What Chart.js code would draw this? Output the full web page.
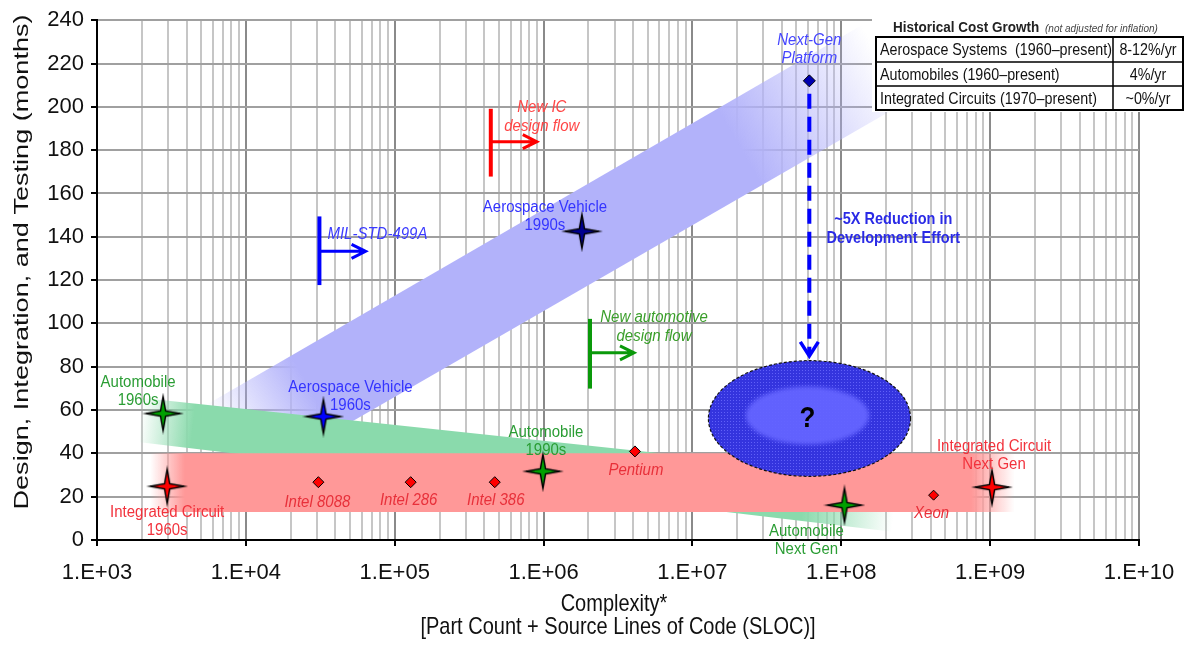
<!DOCTYPE html>
<html>
<head>
<meta charset="utf-8">
<script src="https://cdn.jsdelivr.net/npm/chart.js@4.4.1/dist/chart.umd.min.js"></script>
<style>
  html, body { margin: 0; padding: 0; background: #fff; }
</style>
</head>
<body>
<canvas id="chart" width="1192" height="645"></canvas>
<script>
// Axis ticks
const xTickValues = [1e3, 1e4, 1e5, 1e6, 1e7, 1e8, 1e9, 1e10];
const yMin = 0, yMax = 240, yStep = 20;

// Milestones (stars)
const autoNames = ['Automobile\n1960s', 'Automobile\n1990s', 'Automobile\nNext Gen'];
const autoX = [2780, 9.9e5, 1.05e8];
const autoY = [58.4, 31.7, 16.1];

const aeroNames = ['Aerospace Vehicle\n1960s', 'Aerospace Vehicle\n1990s'];
const aeroX = [3.32e4, 1.81e6];
const aeroY = [57.0, 142.5];

const icNames = ['Integrated Circuit\n1960s', 'Integrated Circuit\nNext Gen'];
const icX = [2960, 1.03e9];
const icY = [24.8, 24.4];

// Processors (diamonds)
const chipNames = ['Intel 8088', 'Intel 286', 'Intel 386', 'Pentium', 'Xeon'];
const chipX = [3.07e4, 1.28e5, 4.7e5, 4.11e6, 4.17e8];
const chipY = [26.7, 26.7, 26.7, 40.9, 20.7];

const platformNames = ['Next-Gen\nPlatform'];
const platformX = [6.1e7];
const platformY = [212];

// Trend bands, corners: top-left, top-right, bottom-right, bottom-left
const aeroBandX = [5330, 1.37e8, 2.74e8, 1.07e4];
const aeroBandY = [62.1, 237.7, 202.3, 27.6];
const autoBandX = [1946, 2.28e8, 2.28e8, 1946];
const autoBandY = [65.7, 28.5, 3.7, 45.1];
const icBandX = [2275, 1.46e9, 1.46e9, 2275];
const icBandY = [40, 40, 12.9, 12.9];

// "?" target region and the ~5X reduction arrow
const targetX = [1.28e7, 2.92e8];
const targetY = [29.4, 82.8];
const reductionX = 6.1e7;
const reductionY = [206, 85];

// Design flow markers
const flowNames = ['MIL-STD-499A', 'New IC\ndesign flow', 'New automotive\ndesign flow'];
const flowX = [3.12e4, 4.42e5, 2.05e6];
const flowTop = [149.4, 199.1, 102.1];
const flowBottom = [117.7, 167.8, 69.9];
const flowArrowY = [133.3, 183.9, 86.4];
const flowArrowX = [6.37e4, 9.0e5, 4.05e6];

// Historical cost growth table
const costRows = ['Aerospace Systems  (1960\u2013present)', 'Automobiles (1960\u2013present)', 'Integrated Circuits (1970\u2013present)'];
const costGrowth = ['8-12%/yr', '4%/yr', '~0%/yr'];

const FONT = "'Liberation Sans', Arial, sans-serif";

// minor grid values 1..9 x 10^n
const xGridValues = [];
xTickValues.forEach((v, i) => {
    if (i === xTickValues.length - 1) { xGridValues.push(v); return; }
    for (let m = 1; m < 10; m++) xGridValues.push(v * m);
});
const isDecade = (v) => Math.abs(Math.log10(v) - Math.round(Math.log10(v))) < 1e-9;

const toPoints = (xs, ys) => xs.map((x, i) => ({ x: x, y: ys[i] }));

// 4-point star marker
function makeStar(fill) {
    const s = 42, c = s / 2, R = 17, r = 3.6;
    const cv = document.createElement('canvas');
    cv.width = s; cv.height = s;
    const g = cv.getContext('2d');
    g.beginPath();
    for (let i = 0; i < 4; i++) {
        const a = i * Math.PI / 2 - Math.PI / 2;
        const b = a + Math.PI / 4;
        const tx = c + R * Math.cos(a), ty = c + R * Math.sin(a);
        if (i === 0) g.moveTo(tx, ty); else g.lineTo(tx, ty);
        g.lineTo(c + r * Math.cos(b), c + r * Math.sin(b));
    }
    g.closePath();
    g.shadowColor = 'rgba(0,0,0,0.7)';
    g.shadowBlur = 2;
    g.fillStyle = fill;
    g.fill();
    g.shadowBlur = 0;
    g.lineWidth = 1.4;
    g.strokeStyle = '#000';
    g.stroke();
    return cv;
}

function text(ctx, str, x, y, font, color, align, sy) {
    ctx.save();
    ctx.font = font;
    ctx.fillStyle = color;
    ctx.textAlign = align || 'center';
    ctx.textBaseline = 'middle';
    ctx.translate(x, y);
    ctx.scale(1, sy || 1.15);
    ctx.fillText(str, 0, 0);
    ctx.restore();
}

function drawBand(chart, xs, ys, rgb, fadeIn, fadeOut) {
    const ctx = chart.ctx;
    const pts = xs.map((x, i) => [chart.scales.x.getPixelForValue(x), chart.scales.y.getPixelForValue(ys[i])]);
    const lx = (pts[0][0] + pts[3][0]) / 2, ly = (pts[0][1] + pts[3][1]) / 2;
    const rx = (pts[1][0] + pts[2][0]) / 2, ry = (pts[1][1] + pts[2][1]) / 2;
    const grad = ctx.createLinearGradient(lx, ly, rx, ry);
    grad.addColorStop(0, 'rgba(' + rgb + ',0)');
    grad.addColorStop(fadeIn, 'rgba(' + rgb + ',1)');
    grad.addColorStop(fadeOut, 'rgba(' + rgb + ',1)');
    grad.addColorStop(1, 'rgba(' + rgb + ',0)');
    ctx.beginPath();
    pts.forEach((p, i) => i ? ctx.lineTo(p[0], p[1]) : ctx.moveTo(p[0], p[1]));
    ctx.closePath();
    ctx.fillStyle = grad;
    ctx.fill();
}

function drawPointLabels(chart, dsIndex, names, offsets, font, color) {
    const meta = chart.getDatasetMeta(dsIndex);
    meta.data.forEach((el, i) => {
        names[i].split('\n').forEach((line, k) => {
            text(chart.ctx, line, el.x + offsets[i][0], el.y + offsets[i][1] + k * 18, font, color);
        });
    });
}

const overlayPlugin = {
    id: 'overlay',
    beforeDatasetsDraw(chart) {
        const ctx = chart.ctx;
        const X = (v) => chart.scales.x.getPixelForValue(v);
        const Y = (v) => chart.scales.y.getPixelForValue(v);
        ctx.save();

        drawBand(chart, aeroBandX, aeroBandY, '178,178,250', 0.13, 0.78);
        drawBand(chart, autoBandX, autoBandY, '138,218,172', 0.07, 0.88);
        drawBand(chart, icBandX, icBandY, '255,152,152', 0.04, 0.95);

        // target ellipse
        const ex0 = X(targetX[0]), ex1 = X(targetX[1]);
        const ey0 = Y(targetY[1]), ey1 = Y(targetY[0]);
        const cx = (ex0 + ex1) / 2, cy = (ey0 + ey1) / 2;
        const rx = (ex1 - ex0) / 2, ry = (ey1 - ey0) / 2;
        const pc = document.createElement('canvas');
        pc.width = 3; pc.height = 3;
        const pg = pc.getContext('2d');
        pg.fillStyle = 'rgb(52,52,222)';
        pg.fillRect(0, 0, 3, 3);
        pg.fillStyle = 'rgb(96,96,248)';
        pg.fillRect(1, 1, 1, 1);
        ctx.beginPath();
        ctx.ellipse(cx, cy, rx, ry, 0, 0, Math.PI * 2);
        ctx.fillStyle = ctx.createPattern(pc, 'repeat');
        ctx.fill();
        ctx.save();
        ctx.filter = 'blur(2px)';
        ctx.beginPath();
        ctx.ellipse(cx - 2, cy - 3, rx * 0.61, ry * 0.5, 0, 0, Math.PI * 2);
        ctx.fillStyle = 'rgba(100,100,255,0.95)';
        ctx.fill();
        ctx.restore();
        ctx.beginPath();
        ctx.ellipse(cx, cy, rx, ry, 0, 0, Math.PI * 2);
        ctx.setLineDash([3, 2]);
        ctx.lineWidth = 1.2;
        ctx.strokeStyle = '#111';
        ctx.stroke();
        ctx.setLineDash([]);
        text(ctx, '?', cx - 2, cy, 'bold 26px ' + FONT, '#000');

        // design flow brackets
        const flowColors = ['#0000ff', '#ff0000', '#0a990a'];
        flowX.forEach((fx, i) => {
            const x = X(fx), ya = Y(flowArrowY[i]), xe = X(flowArrowX[i]);
            ctx.strokeStyle = flowColors[i];
            ctx.lineWidth = 4;
            ctx.beginPath();
            ctx.moveTo(x, Y(flowTop[i]));
            ctx.lineTo(x, Y(flowBottom[i]));
            ctx.stroke();
            ctx.lineWidth = 3;
            ctx.beginPath();
            ctx.moveTo(x, ya);
            ctx.lineTo(xe, ya);
            ctx.moveTo(xe - 14, ya - 7);
            ctx.lineTo(xe, ya);
            ctx.lineTo(xe - 14, ya + 7);
            ctx.stroke();
        });

        // ~5X reduction arrow
        const ax = X(reductionX), ay0 = Y(reductionY[0]), ay1 = Y(reductionY[1]);
        ctx.strokeStyle = '#0000ff';
        ctx.lineWidth = 4;
        ctx.setLineDash([15, 8]);
        ctx.beginPath();
        ctx.moveTo(ax, ay0);
        ctx.lineTo(ax, ay1 - 2);
        ctx.stroke();
        ctx.setLineDash([]);
        ctx.lineWidth = 3.5;
        ctx.beginPath();
        ctx.moveTo(ax - 9, ay1 - 14);
        ctx.lineTo(ax, ay1);
        ctx.lineTo(ax + 9, ay1 - 14);
        ctx.stroke();

        ctx.restore();
    },
    afterDatasetsDraw(chart) {
        const ctx = chart.ctx;
        const X = (v) => chart.scales.x.getPixelForValue(v);
        const Y = (v) => chart.scales.y.getPixelForValue(v);
        const f = '15px ' + FONT, fi = 'italic 15px ' + FONT;

        drawPointLabels(chart, 0, autoNames, [[-25, -31], [3, -39], [-38, 26]], f, '#2a9d34');
        drawPointLabels(chart, 1, aeroNames, [[27, -29], [-37, -24]], f, '#3434ff');
        drawPointLabels(chart, 2, icNames, [[0, 26], [2, -41]], f, '#f2323c');
        drawPointLabels(chart, 3, chipNames, [[-1, 20], [-2, 18], [1, 18], [1, 19], [-2, 18]], fi, '#e8303a');
        drawPointLabels(chart, 4, platformNames, [[0, -41]], fi, '#4545ff');

        const flowColors = ['#3a3aff', '#ff4545', '#3a9e2a'];
        const flowOffsets = [[58, 18], [51, -2], [64, -2]];
        flowNames.forEach((name, i) => {
            const x = X(flowX[i]) + flowOffsets[i][0], y = Y(flowTop[i]) + flowOffsets[i][1];
            name.split('\n').forEach((line, k) => text(ctx, line, x, y + k * 19, fi, flowColors[i]));
        });

        const rx = X(reductionX) + 84;
        text(ctx, '~5X Reduction in', rx, Y(148), 'bold 14.5px ' + FONT, '#2a2ae6');
        text(ctx, 'Development Effort', rx, Y(148) + 19, 'bold 14.5px ' + FONT, '#2a2ae6');
    },
    afterDraw(chart) {
        const ctx = chart.ctx;
        ctx.save();
        // axis titles
        ctx.save();
        ctx.translate(22, 262);
        ctx.rotate(-Math.PI / 2);
        ctx.font = '21px ' + FONT;
        const title = 'Design, Integration, and Testing (months)';
        const w = ctx.measureText(title).width;
        ctx.scale(495 / w, 1);
        ctx.fillStyle = '#111';
        ctx.textAlign = 'center';
        ctx.textBaseline = 'middle';
        ctx.fillText(title, 0, 0);
        ctx.restore();
        text(ctx, 'Complexity*', 614, 604, '20px ' + FONT, '#111', 'center', 1.2);
        text(ctx, '[Part Count + Source Lines of Code (SLOC)]', 618, 627, '20px ' + FONT, '#111', 'center', 1.2);

        // cost growth table
        const x0 = 876, x1 = 1113, x2 = 1183;
        const rows = [37, 62, 86, 110];
        ctx.fillStyle = '#fff';
        ctx.fillRect(872, 12, 316, 100);
        text(ctx, 'Historical Cost Growth', 893, 28, 'bold 13.5px ' + FONT, '#222', 'left');
        text(ctx, '(not adjusted for inflation)', 1045, 29, 'italic 10px ' + FONT, '#444', 'left');
        ctx.strokeStyle = '#000';
        ctx.lineWidth = 1.5;
        ctx.beginPath();
        [rows[1], rows[2]].forEach((ry) => { ctx.moveTo(x0, ry); ctx.lineTo(x2, ry); });
        ctx.moveTo(x1, rows[0]);
        ctx.lineTo(x1, rows[3]);
        ctx.stroke();
        ctx.lineWidth = 2;
        ctx.strokeRect(x0, rows[0], x2 - x0, rows[3] - rows[0]);
        costRows.forEach((label, i) => {
            const cy = (rows[i] + rows[i + 1]) / 2 + 1;
            text(ctx, label, x0 + 4, cy, '14.3px ' + FONT, '#111', 'left');
            text(ctx, costGrowth[i], (x1 + x2) / 2, cy, '14.3px ' + FONT, '#111', 'center');
        });
        ctx.restore();
    }
};

const ctx = document.getElementById('chart').getContext('2d');
new Chart(ctx, {
    type: 'scatter',
    data: {
        datasets: [
            { data: toPoints(autoX, autoY), pointStyle: makeStar('#00a000') },
            { data: toPoints(aeroX, aeroY), pointStyle: [makeStar('#0000ff'), makeStar('#000090')] },
            { data: toPoints(icX, icY), pointStyle: makeStar('#ff0000') },
            { data: toPoints(chipX, chipY), pointStyle: 'rectRot', pointRadius: [5.5, 5.5, 5.5, 5.5, 5],
              backgroundColor: '#ff0000', borderColor: '#000', borderWidth: 1 },
            { data: toPoints(platformX, platformY), pointStyle: 'rectRot', pointRadius: 6,
              backgroundColor: '#0000b0', borderColor: '#000', borderWidth: 1 }
        ]
    },
    options: {
        responsive: false,
        devicePixelRatio: 1,
        animation: false,
        layout: { padding: { left: 0, top: 18, right: 53, bottom: 0 } },
        plugins: { legend: { display: false }, tooltip: { enabled: false } },
        scales: {
            x: {
                type: 'logarithmic',
                min: xTickValues[0],
                max: xTickValues[xTickValues.length - 1],
                afterBuildTicks: (scale) => { scale.ticks = xGridValues.map((v) => ({ value: v })); },
                afterFit: (scale) => { scale.height = 105; },
                ticks: {
                    autoSkip: false,
                    maxRotation: 0,
                    minRotation: 0,
                    padding: 14,
                    color: '#111',
                    font: { family: FONT, size: 22 },
                    callback: (v) => isDecade(v) ? '1.E+' + String(Math.round(Math.log10(v))).padStart(2, '0') : ''
                },
                grid: {
                    color: (c) => c.tick && isDecade(c.tick.value) ? '#8a8a8a' : '#c6c6c6',
                    lineWidth: 2,
                    tickLength: 6,
                    tickColor: (c) => c.tick && isDecade(c.tick.value) ? '#000' : 'rgba(0,0,0,0)'
                },
                border: { color: '#000', width: 2 }
            },
            y: {
                min: yMin,
                max: yMax,
                afterFit: (scale) => { scale.width = 97; },
                ticks: {
                    stepSize: yStep,
                    padding: 7,
                    color: '#111',
                    font: { family: FONT, size: 22 }
                },
                grid: { color: '#a0a0a0', lineWidth: 2, tickLength: 6, tickColor: '#000' },
                border: { color: '#000', width: 2 }
            }
        }
    },
    plugins: [overlayPlugin]
});
</script>
</body>
</html>
